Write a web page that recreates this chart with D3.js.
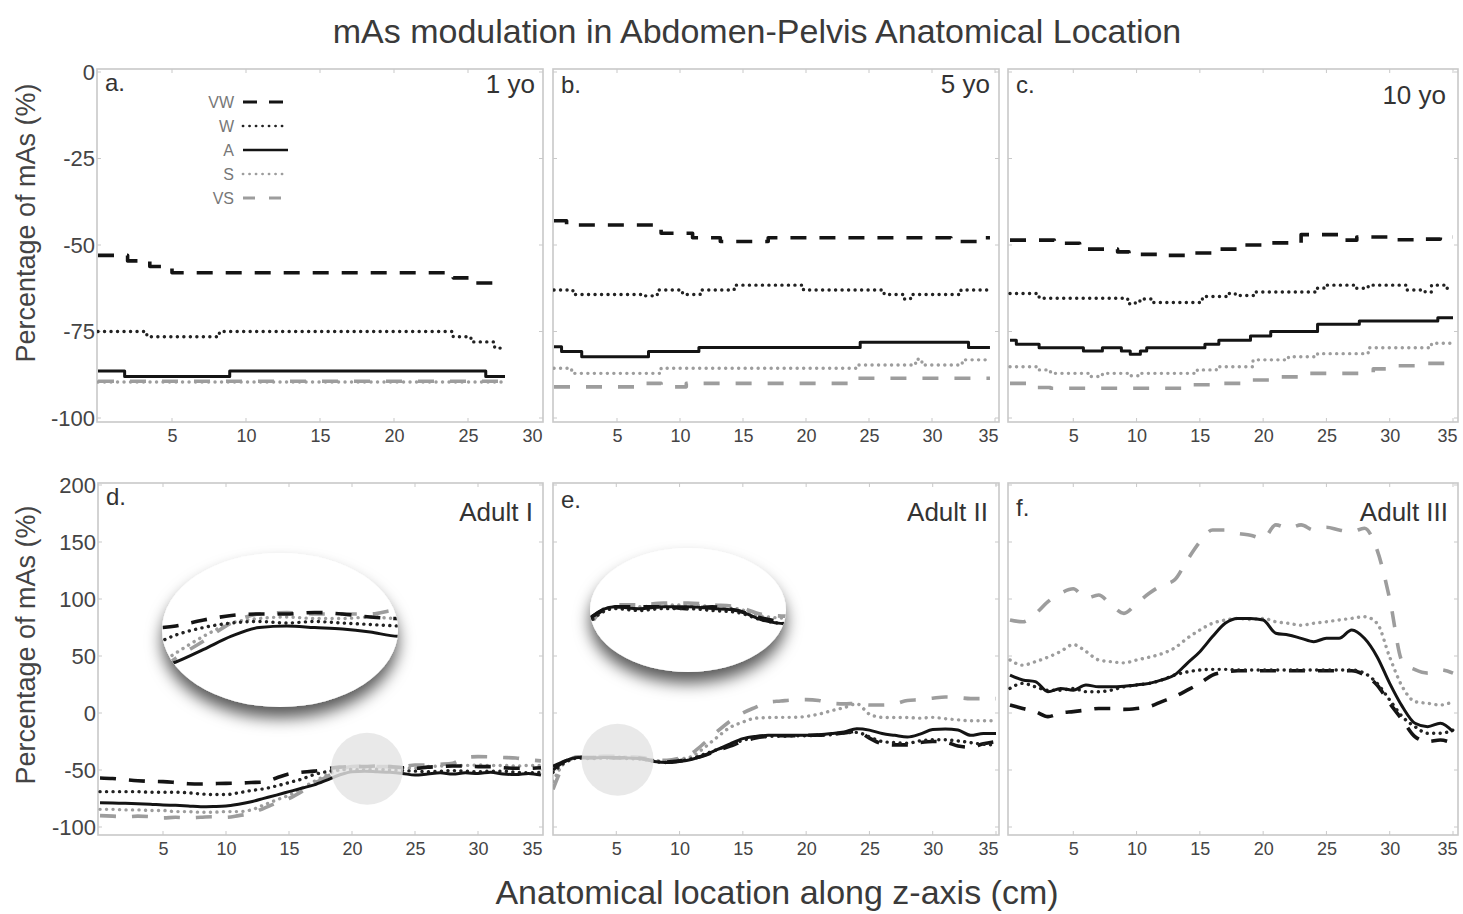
<!DOCTYPE html>
<html><head><meta charset="utf-8">
<script src="https://cdn.jsdelivr.net/npm/d3@7/dist/d3.min.js"></script>
<style>
body{margin:0;background:#fff}
svg{display:block}
text{font-family:"Liberation Sans",Arial,Helvetica,sans-serif}
</style>
</head><body>
<svg id="chart" width="1463" height="914"></svg>
<script>
// ---------------- DATA ----------------
const seriesNames = ["VW", "W", "A", "S", "VS"];
const panelLetters = ["a.", "b.", "c.", "d.", "e.", "f."];
const panelNames = ["1 yo", "5 yo", "10 yo", "Adult I", "Adult II", "Adult III"];
const xTicks30 = [5, 10, 15, 20, 25, 30];
const xTicks35 = [5, 10, 15, 20, 25, 30, 35];
const yTicksChild = [0, -25, -50, -75, -100];
const yTicksAdult = [200, 150, 100, 50, 0, -50, -100];
const chartTitle = "mAs modulation in Abdomen-Pelvis Anatomical Location";
const xTitle = "Anatomical location along z-axis (cm)";
const yTitle = "Percentage of mAs (%)";

// children: step profiles as [z (cm), % mAs] breakpoints
const vwA = [[0,-53],[2,-54.6],[3.5,-56.2],[5,-58],[24,-59.5],[25.2,-61],[27.5,-61]];
const wA  = [[0,-75],[3.3,-76.5],[8.2,-75],[24,-76.5],[25.2,-78],[26.8,-79.8],[27.5,-79.8]];
const aA  = [[0,-86.4],[1.8,-88],[8.9,-86.4],[26.2,-88],[27.5,-88]];
const sA  = [[0,-89.6],[27.5,-89.6]];
const vsA = [[0,-89.4],[27.5,-89.4]];

const vwB = [[0,-43],[1,-44.2],[8.5,-46.6],[11,-47.9],[13.2,-49],[17,-47.9],[31.5,-49],[33.8,-47.9],[34.6,-47.9]];
const wB  = [[0,-63],[1.5,-64.3],[7,-64.7],[8.2,-63],[10.2,-64.3],[11.6,-63],[14.3,-61.6],[19.8,-63],[26.2,-64.3],[27.8,-65.6],[28.3,-64.3],[32.3,-63],[34.6,-63]];
const aB  = [[0,-79.4],[0.6,-80.8],[2.2,-82.3],[7.5,-80.8],[11.5,-79.6],[24.3,-78.1],[32.9,-79.6],[34.6,-79.6]];
const sB  = [[0,-85.6],[1.4,-87.1],[8.5,-85.6],[24,-84.7],[28.7,-83],[29.2,-84.7],[32.4,-83.2],[34.6,-83.2]];
const vsB = [[0,-91],[7,-90],[8.5,-91],[10.5,-90],[23.5,-88.5],[34.6,-88.5]];

const vwC = [[0,-48.6],[3.5,-49.5],[5.5,-51.2],[8.5,-52],[9.4,-52.7],[12.5,-53],[14,-52.3],[16.5,-51.2],[18.5,-50],[20,-49.4],[23,-47],[26,-48.6],[27.4,-47.7],[30,-48.5],[32,-48.3],[34,-47.7],[35,-47.7]];
const wC  = [[0,-64],[2.3,-65.4],[9.3,-67],[9.9,-66.2],[10.5,-65.6],[11.3,-66.6],[15.2,-64.9],[17.3,-64],[17.8,-64.6],[19.4,-63.6],[24.2,-62.5],[24.8,-61.6],[27.3,-62.5],[28.3,-61.6],[31.3,-63],[32.8,-63.6],[33.3,-61.6],[34.4,-62.5],[35,-62.5]];
const aC  = [[0,-77.5],[0.5,-78.7],[2.3,-79.7],[5.8,-80.6],[7.3,-79.7],[8.8,-80.6],[9.5,-81.6],[10.3,-80.6],[10.8,-79.7],[15.4,-78.7],[16.5,-77.5],[19,-76.3],[20.6,-75],[24.3,-72.9],[27.6,-72],[33.8,-71],[35,-71]];
const sC  = [[0,-85.2],[2.3,-86.1],[3.2,-87.1],[6.3,-88],[7.3,-87.1],[9.3,-87.8],[10.3,-87.1],[14.8,-86.1],[16.3,-85.2],[19.2,-83.2],[22,-82.3],[24.3,-81.4],[28.3,-79.7],[33.3,-78.4],[35,-78.4]];
const vsC = [[0,-90],[1.5,-91.2],[3.2,-91.4],[14.5,-90.4],[16.3,-90],[18.8,-89],[20.8,-88.1],[23.5,-87.1],[28.7,-85.8],[30.5,-84.9],[33,-84.2],[35,-84.2]];

// adults: one value per cm
const zAdult = [0,1,2,3,4,5,6,7,8,9,10,11,12,13,14,15,16,17,18,19,20,21,22,23,24,25,26,27,28,29,30,31,32,33,34,35];

const vwD = [-57,-57.5,-58.5,-59.4,-60,-60.2,-61,-62,-62.3,-62,-61.7,-61.5,-61,-60.5,-57,-53.5,-52,-51,-49,-47.5,-47,-47,-46.5,-47,-48,-48.5,-47.5,-47,-46.5,-46.5,-47,-47,-48,-48.5,-48.5,-48];
const wD  = [-69,-69,-69,-69,-69.5,-69.5,-69.5,-70,-71,-71.5,-71.5,-70,-68,-66.5,-64,-61,-58,-54,-51.5,-50,-49.5,-50,-49.5,-50,-50.5,-51,-51.5,-51,-50.5,-51,-51.5,-51,-51,-52,-52.5,-52];
const aD  = [-78.7,-79,-79.2,-79.5,-80,-80.7,-81,-81.5,-82.2,-82,-81.6,-80,-77.8,-74.9,-72,-69,-66,-63,-58.8,-54.4,-51.5,-51,-51.5,-52,-53,-54.4,-53.5,-52.5,-53.5,-52.5,-53,-52,-53.5,-54,-53,-54.4];
const sD  = [-84.5,-84.5,-85,-85,-85.5,-85.5,-86.5,-86.5,-87,-87,-86.5,-86.5,-85,-80.7,-76.3,-72,-66,-60,-54.4,-50,-48.5,-48,-48.5,-48.5,-48,-48.5,-47,-46.5,-46,-46,-45.6,-46,-46,-46.5,-46,-46];
const vsD = [-90,-90.5,-91,-90.5,-91,-92,-91.5,-92,-91.5,-91,-91.5,-90,-88,-83.6,-79,-75,-69,-61.7,-56,-50,-47,-46.5,-47,-47,-47,-45.6,-45.6,-45,-44,-39,-38.3,-38.5,-39,-39.5,-41,-42];

const vwE = [-47,-42,-39,-39,-39,-39.5,-39,-40,-42,-43,-42,-40,-37,-33,-29,-25,-22,-20.5,-20,-20,-19.5,-19.5,-18.5,-17.5,-16,-22,-27,-28,-28,-26,-25,-25.5,-29,-30,-27,-25];
const wE  = [-52,-43,-39.5,-40,-39.5,-39.5,-40,-40.5,-42.5,-43.5,-42,-40,-36,-32,-28,-24,-21.5,-20.5,-20.5,-20,-20,-19.5,-19,-17.5,-17,-21,-25,-26,-26.5,-24.5,-23.5,-23.5,-24.5,-26,-27.5,-28];
const aE  = [-50,-42,-39,-39.5,-39,-39,-39.5,-40,-42.5,-43.5,-42.5,-40.5,-37,-32,-27,-22.5,-20.5,-19.6,-19.6,-19.6,-19.6,-19,-18,-16.7,-13.8,-15,-18,-19.6,-21,-18.5,-14.5,-14,-15,-19.6,-18,-18];
const sE  = [-60,-43,-39,-39,-38.5,-38.5,-39,-39.5,-41.5,-42,-40.5,-38,-30,-21,-12.6,-8,-4.5,-4,-3.8,-3.8,-3,-1,2,4.7,8,-1,-3.8,-4,-4,-4.5,-3.8,-5,-6,-6.8,-6.8,-6.8];
const vsE = [-67,-44,-38.5,-38.5,-38,-38,-38.5,-39,-41,-41.5,-39.5,-35,-26,-16,-7,0,5,9.5,10.5,11.5,11.7,11,8.5,8,8.5,7,7,8,11,11.7,13,14,13.5,12.6,12.6,12.6];

const vwF = [7,4,1.2,-3.2,0,1.2,2.6,4,4,3.2,4,5.6,10,14.3,20,26,33.3,36,37,37,37,37,37,37,37,37,37,37,33.3,24.6,8.5,-6,-20.8,-25,-23.7,-26.6];
const wF  = [21.6,26,23,20,20,21.6,18.7,18.7,20,23,24.6,26,29,33.3,36,37.7,38.3,38.3,37.7,37.7,37.7,37.7,37.7,37.7,37.7,37.7,37.7,37.7,35,26,11.4,-3.2,-12,-17.8,-17.8,-15];
const aF  = [33.3,29,27.5,18.7,21.6,20,24.6,23,23,23.5,24.6,26,29,33.3,43.6,53.8,67,78.7,83,83,81.6,70,68.4,65.5,62.6,65.5,65.5,72.8,65.5,49.4,26,5.6,-9,-12,-9,-16.4];
const sF  = [46.5,42,45,49,54,60,54,46.5,45,44,46.5,49,52,57,65.5,72.8,78.7,81.6,83,82,83,80,78.7,77,78.7,80,81.6,83,84.5,78.7,49,23,10,8.5,7,10];
const vsF = [81.6,80,87,97.7,105,109,100.6,103.5,94.7,87.4,96,105,112,116.7,134,150,160.5,160.5,157.6,156,153,165,162,165,160.5,163,160.5,159,162,143,100,45,38,35,38,35];

// centres (z, %) of the grey regions that are magnified in the insets of d and e
const zoomSpotD = [21.2, -49];
const zoomSpotE = [5.1, -41];
// data window shown inside each inset: [z0, z1], [p0, p1]
const insetWindowD = [[16.5, 25], [-65, -40]];
const insetWindowE = [[1, 9], [-50, -30]];

// ---------------- STYLE / LAYOUT ----------------
const styles = {
  VW: {color: "#141414", width: 3.6, dash: "16,13", cap: "butt"},
  W:  {color: "#222",    width: 3.4, dash: "0.1,6.4", cap: "round"},
  A:  {color: "#141414", width: 3.0, dash: null, cap: "butt"},
  S:  {color: "#9d9d9d", width: 3.4, dash: "0.1,6.4", cap: "round"},
  VS: {color: "#9d9d9d", width: 3.6, dash: "16,16", cap: "butt"}
};
const drawOrder = ["VS", "S", "VW", "W", "A"];

const topRow = {y0: 69, y1: 422, domain: [-100, 0], range: [418, 72], yTicks: yTicksChild, xLabelY: 443};
const botRow = {y0: 483, y1: 835, domain: [-100, 200], range: [827, 485], yTicks: yTicksAdult, xLabelY: 856};

const panels = [
  {row: topRow, x0: 97,  x1: 543,  xd: [0,30], xr: [98,542],   ticks: xTicks30, step: true, showY: true,
   data: {VW: vwA, W: wA, A: aA, S: sA, VS: vsA}, letterY: 91, nameY: 93, nameX: 535},
  {row: topRow, x0: 553, x1: 999,  xd: [0,35], xr: [554,995],  ticks: xTicks35, step: true,
   data: {VW: vwB, W: wB, A: aB, S: sB, VS: vsB}, letterY: 93, nameY: 93, nameX: 990},
  {row: topRow, x0: 1008, x1: 1458, xd: [0,35], xr: [1010,1453], ticks: xTicks35, step: true,
   data: {VW: vwC, W: wC, A: aC, S: sC, VS: vsC}, letterY: 93, nameY: 104, nameX: 1446},
  {row: botRow, x0: 98,  x1: 543,  xd: [0,35], xr: [100,541],  ticks: xTicks35, step: false, showY: true,
   data: {VW: vwD, W: wD, A: aD, S: sD, VS: vsD}, letterY: 505, nameY: 521, nameX: 533,
   spot: zoomSpotD, inset: {cx: 280, cy: 630, rx: 118, ry: 77, win: insetWindowD}},
  {row: botRow, x0: 553, x1: 999,  xd: [0,35], xr: [553,996],  ticks: xTicks35, step: false,
   data: {VW: vwE, W: wE, A: aE, S: sE, VS: vsE}, letterY: 508, nameY: 521, nameX: 988,
   spot: zoomSpotE, inset: {cx: 688, cy: 610, rx: 98, ry: 62, win: insetWindowE}},
  {row: botRow, x0: 1008, x1: 1458, xd: [0,35], xr: [1010,1453], ticks: xTicks35, step: false,
   data: {VW: vwF, W: wF, A: aF, S: sF, VS: vsF}, letterY: 516, nameY: 521, nameX: 1448}
];

// ---------------- DRAW ----------------
const svg = d3.select("#chart");
const defs = svg.append("defs");
const sh = defs.append("filter").attr("id", "shadow")
  .attr("x", "-30%").attr("y", "-30%").attr("width", "160%").attr("height", "170%");
sh.append("feDropShadow").attr("dx", 0).attr("dy", 11).attr("stdDeviation", 8)
  .attr("flood-color", "#000").attr("flood-opacity", 0.65);

svg.append("text").attr("x", 757).attr("y", 43).attr("text-anchor", "middle")
  .attr("font-size", 34).attr("fill", "#3a3a3a").text(chartTitle);
svg.append("text").attr("x", 777).attr("y", 904).attr("text-anchor", "middle")
  .attr("font-size", 34).attr("fill", "#3a3a3a").text(xTitle);
[223, 645].forEach(cy => {
  svg.append("text").attr("transform", `translate(35,${cy}) rotate(-90)`)
    .attr("text-anchor", "middle").attr("font-size", 27).attr("fill", "#444").text(yTitle);
});

function seriesPoints(p, name) {
  const d = p.data[name];
  return p.step ? d : zAdult.map((z, i) => [z, d[i]]);
}

function drawSeries(g, p, x, y) {
  drawOrder.forEach(name => {
    const st = styles[name];
    const line = d3.line().x(d => x(d[0])).y(d => y(d[1]))
      .curve(p.step ? d3.curveStepAfter : d3.curveMonotoneX);
    g.append("path").datum(seriesPoints(p, name))
      .attr("d", line).attr("fill", "none")
      .attr("stroke", st.color).attr("stroke-width", st.width)
      .attr("stroke-linecap", st.cap).attr("stroke-linejoin", "round")
      .attr("stroke-dasharray", st.dash);
  });
}

panels.forEach((p, i) => {
  const r = p.row;
  const x = d3.scaleLinear().domain(p.xd).range(p.xr);
  const y = d3.scaleLinear().domain(r.domain).range(r.range);
  const g = svg.append("g");

  // frame
  g.append("rect").attr("x", p.x0).attr("y", r.y0).attr("width", p.x1 - p.x0).attr("height", r.y1 - r.y0)
    .attr("fill", "#fff").attr("stroke", "#c9c9c9").attr("stroke-width", 1.6);

  // inward tick marks
  p.ticks.forEach(t => {
    if (x(t) >= p.x1 - 2) return;
    g.append("line").attr("x1", x(t)).attr("x2", x(t)).attr("y1", r.y1).attr("y2", r.y1 - 4).attr("stroke", "#c9c9c9");
    g.append("line").attr("x1", x(t)).attr("x2", x(t)).attr("y1", r.y0).attr("y2", r.y0 + 4).attr("stroke", "#c9c9c9");
  });
  r.yTicks.forEach(t => {
    g.append("line").attr("x1", p.x0).attr("x2", p.x0 + 4).attr("y1", y(t)).attr("y2", y(t)).attr("stroke", "#c9c9c9");
    g.append("line").attr("x1", p.x1).attr("x2", p.x1 - 4).attr("y1", y(t)).attr("y2", y(t)).attr("stroke", "#c9c9c9");
  });

  // x axis labels (d3 axis, no lines)
  const ax = g.append("g").attr("transform", `translate(0,${r.xLabelY - 14})`)
    .call(d3.axisBottom(x).tickValues(p.ticks).tickSize(0).tickPadding(0));
  ax.select(".domain").remove();
  ax.selectAll("text").attr("font-size", 18).attr("fill", "#444")
    .attr("font-family", '"Liberation Sans",Arial,sans-serif').attr("dy", "0.71em");
  // the last label sits flush with the right frame edge
  ax.selectAll(".tick").filter(t => x(t) > p.x1 - 14).select("text")
    .attr("text-anchor", "end").attr("x", t => p.x1 - x(t) - 1);

  if (p.showY) {
    const ay = g.append("g").attr("transform", `translate(${p.x0 - 1},0)`)
      .call(d3.axisLeft(y).tickValues(r.yTicks).tickSize(0).tickPadding(1).tickFormat(d => String(d)));
    ay.select(".domain").remove();
    ay.selectAll("text").attr("font-size", 22).attr("fill", "#444")
      .attr("font-family", '"Liberation Sans",Arial,sans-serif');
  }

  // clip
  const cid = "clip" + i;
  defs.append("clipPath").attr("id", cid).append("rect")
    .attr("x", p.x0).attr("y", r.y0).attr("width", p.x1 - p.x0).attr("height", r.y1 - r.y0);
  const lg = g.append("g").attr("clip-path", `url(#${cid})`);
  drawSeries(lg, p, x, y);

  // magnified region marker + inset
  if (p.spot) {
    lg.append("circle").attr("cx", x(p.spot[0])).attr("cy", y(p.spot[1])).attr("r", 36)
      .attr("fill", "#e4e4e4").attr("opacity", 0.82);
    const ins = p.inset;
    g.append("ellipse").attr("cx", ins.cx).attr("cy", ins.cy).attr("rx", ins.rx).attr("ry", ins.ry)
      .attr("fill", "#fff").attr("filter", "url(#shadow)");
    const eid = "ell" + i;
    defs.append("clipPath").attr("id", eid).append("ellipse")
      .attr("cx", ins.cx).attr("cy", ins.cy).attr("rx", ins.rx).attr("ry", ins.ry);
    const xi = d3.scaleLinear().domain(ins.win[0]).range([ins.cx - ins.rx, ins.cx + ins.rx]);
    const yi = d3.scaleLinear().domain(ins.win[1]).range([ins.cy + 38, ins.cy - 37]);
    const ig = g.append("g").attr("clip-path", `url(#${eid})`);
    drawSeries(ig, p, xi, yi);
  }

  // panel texts
  g.append("text").attr("x", p.x0 + 8).attr("y", p.letterY).attr("font-size", 24).attr("fill", "#333").text(panelLetters[i]);
  g.append("text").attr("x", p.nameX).attr("y", p.nameY).attr("text-anchor", "end")
    .attr("font-size", 26).attr("fill", "#333").text(panelNames[i]);
});

// legend in panel a
const legendTop = 102, legendStep = 24;
seriesNames.forEach((name, k) => {
  const st = styles[name];
  const ly = legendTop + k * legendStep;
  svg.append("text").attr("x", 234).attr("y", ly).attr("text-anchor", "end")
    .attr("dominant-baseline", "central").attr("font-size", 16).attr("fill", "#777").text(name);
  svg.append("line").attr("x1", 243).attr("x2", 288).attr("y1", ly).attr("y2", ly)
    .attr("stroke", st.color).attr("stroke-width", st.width * 0.8)
    .attr("stroke-linecap", st.cap).attr("stroke-dasharray", st.dash === "16,13" ? "14,12" : st.dash === "16,16" ? "12,14" : st.dash);
});
</script>
</body></html>
